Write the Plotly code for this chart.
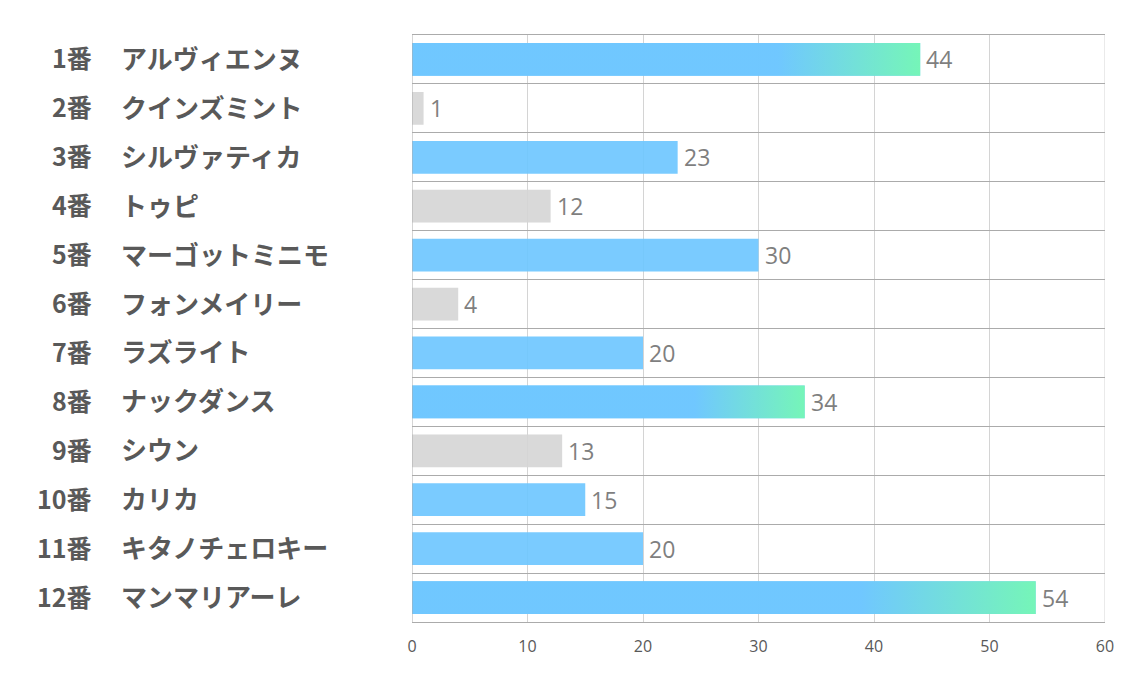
import plotly.graph_objects as go

numbers = ["1番", "2番", "3番", "4番", "5番", "6番", "7番", "8番", "9番", "10番", "11番", "12番"]
names = ["アルヴィエンヌ", "クインズミント", "シルヴァティカ", "トゥピ", "マーゴットミニモ",
         "フォンメイリー", "ラズライト", "ナックダンス", "シウン", "カリカ", "キタノチェロキー", "マンマリアーレ"]
values = [44, 1, 23, 12, 30, 4, 20, 34, 13, 15, 20, 54]
kinds = ["grad", "grey", "blue", "grey", "blue", "grey", "blue", "grad", "grey", "blue", "blue", "grad"]
x_ticks = [0, 10, 20, 30, 40, 50, 60]

BLUE = "#6FC7FF"
GREEN = "#75F9B2"
GREY = "#D6D6D6"
FONT = "Noto Sans CJK JP"
OFF = 8  # browser body margin
W = 1134 - OFF
H = 680 - OFF
L, T = 412 - OFF, 35 - OFF
R = W - (1105 - OFF)
B = H - (622 - OFF)
bw = 0.67

idx = list(range(len(values)))
fig = go.Figure()

colors = [GREY if k == "grey" else BLUE for k in kinds]
fig.add_trace(go.Bar(x=values, y=idx, orientation="h", width=bw,
                     marker=dict(color=colors, line=dict(width=0)), opacity=0.92,
                     hoverinfo="skip"))

for i, (v, k) in enumerate(zip(values, kinds)):
    if k == "grad":
        y0, y1 = i - bw / 2, i + bw / 2
        fig.add_trace(go.Scatter(
            x=[0, v, v, 0, 0], y=[y0, y0, y1, y1, y0], mode="lines",
            line=dict(width=0), fill="toself", opacity=0.92,
            fillgradient=dict(type="horizontal",
                              colorscale=[[0, BLUE], [0.72, BLUE], [1, GREEN]]),
            hoverinfo="skip", showlegend=False))

ann = []
plot_w = W - L - R
for i, v in enumerate(values):
    ann.append(dict(x=v, y=i, xref="x", yref="y", text=str(v), showarrow=False,
                    xanchor="left", xshift=4, font=dict(family="Open Sans", size=23, color="#7F7F7F")))
    ann.append(dict(x=(94 - OFF - L) / plot_w, y=i, xref="paper", yref="y", text=numbers[i],
                    showarrow=False, xanchor="right", yshift=2,
                    font=dict(family=FONT, size=25, color="#595959", weight="bold")))
    ann.append(dict(x=(119 - OFF - L) / plot_w, y=i, xref="paper", yref="y", text=names[i],
                    showarrow=False, xanchor="left", yshift=2,
                    font=dict(family=FONT, size=26, color="#595959", weight="bold")))

fig.update_layout(
    width=W, height=H, margin=dict(l=L, r=R, t=T, b=B),
    paper_bgcolor="white", plot_bgcolor="white", showlegend=False,
    bargap=0.33, annotations=ann,
    xaxis=dict(range=[0, 60], tickvals=x_ticks, showgrid=True, gridcolor="#D4D4D4", gridwidth=1,
               zeroline=False, showline=True, mirror=True, linecolor="#ABABAB", ticks="",
               ticklabelstandoff=10,
               tickfont=dict(family="Open Sans", size=16, color="#595959"), fixedrange=True),
    yaxis=dict(range=[len(values) - 0.5, -0.5],
               tickvals=[i - 0.5 for i in range(len(values) + 1)],
               showticklabels=False, showgrid=True, gridcolor="#ABABAB", gridwidth=1,
               zeroline=False, showline=False, ticks=""),
)
fig.add_shape(type="line", xref="x", yref="paper", x0=0, x1=0, y0=0, y1=1,
              line=dict(color="#ABABAB", width=1), layer="above")
fig.add_shape(type="line", xref="x", yref="paper", x0=60, x1=60, y0=0, y1=1,
              line=dict(color="#D4D4D4", width=1), layer="below")

fig.write_html("out.html")
